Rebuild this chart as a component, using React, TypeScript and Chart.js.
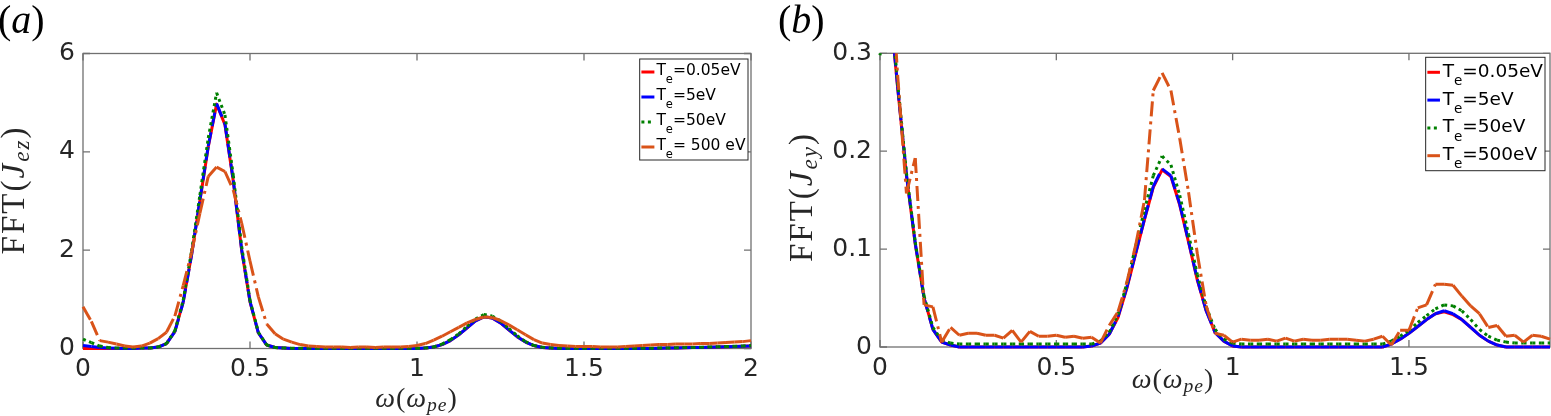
import React, { useEffect, useRef } from 'react';
import { Chart, registerables } from 'chart.js';

Chart.register(...registerables);

// frequency grid, omega in units of omega_pe
const freqA = [
  0, 0.025, 0.05, 0.075, 0.1, 0.125, 0.15, 0.175, 0.2, 0.225, 0.25, 0.275, 0.3, 0.325, 0.35, 0.375,
  0.4, 0.425, 0.45, 0.475, 0.5, 0.525, 0.55, 0.575, 0.6, 0.625, 0.65, 0.675, 0.7, 0.725, 0.75, 0.775,
  0.8, 0.825, 0.85, 0.875, 0.9, 0.925, 0.95, 0.975, 1, 1.025, 1.05, 1.075, 1.1, 1.125, 1.15, 1.175,
  1.2, 1.225, 1.25, 1.275, 1.3, 1.325, 1.35, 1.375, 1.4, 1.425, 1.45, 1.475, 1.5, 1.525, 1.55, 1.575,
  1.6, 1.625, 1.65, 1.675, 1.7, 1.725, 1.75, 1.775, 1.8, 1.825, 1.85, 1.875, 1.9, 1.925, 1.95, 1.975, 2,
];
const freqB = freqA.slice(0, 77);

// panel (a): FFT(J_ez)
const jez005 = [
  0, 0, 0, 0, 0, 0, 0, 0.01, 0.01,
  0.03, 0.1, 0.35, 0.95, 1.9, 3.0, 4.1, 4.97, 4.55, 3.4, 2.0, 0.95, 0.32, 0.07, 0.02, 0.01,
  0, 0, 0, 0, 0, 0, 0, 0, 0, 0, 0, 0, 0, 0, 0, 0,
  0.01, 0.03, 0.08, 0.16, 0.28, 0.42, 0.56, 0.645, 0.62, 0.52, 0.38, 0.24, 0.13, 0.06, 0.02, 0.01,
  0, 0, 0, 0, 0, 0, 0, 0, 0, 0, 0, 0,
  0.005, 0.01, 0.01, 0.015, 0.02, 0.02, 0.025, 0.03, 0.035, 0.04, 0.045, 0.05,
];
const jez5 = [
  0.06, 0.04, 0.02, 0.01, 0.005, 0, 0, 0.01, 0.01,
  0.03, 0.1, 0.34, 0.94, 1.9, 3.02, 4.12, 4.98, 4.57, 3.42, 2.01, 0.96, 0.32, 0.07, 0.02, 0.01,
  0, 0, 0, 0, 0, 0, 0, 0, 0, 0, 0, 0, 0, 0, 0, 0,
  0.01, 0.03, 0.08, 0.16, 0.28, 0.42, 0.56, 0.645, 0.62, 0.52, 0.38, 0.24, 0.13, 0.06, 0.02, 0.01,
  0, 0, 0, 0, 0, 0, 0, 0, 0, 0, 0, 0,
  0.005, 0.01, 0.01, 0.015, 0.02, 0.02, 0.025, 0.03, 0.035, 0.04, 0.045, 0.05,
];
const jez50 = [
  0.19, 0.12, 0.05, 0.02, 0.01, 0.01, 0.01, 0.01, 0.01,
  0.03, 0.1, 0.36, 0.98, 1.98, 3.12, 4.28, 5.2, 4.75, 3.52, 2.08, 0.98, 0.33, 0.07, 0.02, 0.01,
  0.005, 0.005, 0.005, 0.005, 0.005, 0.005, 0.005, 0.005, 0.005, 0.005, 0.005, 0.005, 0.005, 0.005, 0.005, 0.005,
  0.01, 0.03, 0.09, 0.18, 0.3, 0.45, 0.6, 0.69, 0.66, 0.56, 0.41, 0.26, 0.14, 0.06, 0.025, 0.01,
  0.005, 0.005, 0.005, 0.005, 0.005, 0.005, 0.005, 0.005, 0.005, 0.005, 0.005, 0.005,
  0.01, 0.01, 0.015, 0.02, 0.02, 0.025, 0.03, 0.035, 0.04, 0.045, 0.05, 0.06,
];
const jez500 = [
  0.85, 0.55, 0.16, 0.13, 0.09, 0.05, 0.03, 0.05, 0.11,
  0.2, 0.33, 0.66, 1.28, 1.95, 2.75, 3.5, 3.69, 3.6, 3.22, 2.55, 1.78, 1.05, 0.5, 0.3, 0.19,
  0.13, 0.08, 0.05, 0.04, 0.03, 0.03, 0.03, 0.02, 0.03, 0.03, 0.02, 0.03, 0.03, 0.03, 0.04, 0.06,
  0.1, 0.17, 0.25, 0.34, 0.43, 0.52, 0.59, 0.64, 0.63, 0.57, 0.48, 0.38, 0.28, 0.18, 0.11, 0.08,
  0.06, 0.05, 0.04, 0.04, 0.04, 0.03, 0.03, 0.03, 0.04, 0.05, 0.06, 0.07,
  0.08, 0.08, 0.09, 0.09, 0.09, 0.1, 0.1, 0.11, 0.12, 0.13, 0.14, 0.16,
];

// panel (b): FFT(J_ey)
const jey005 = [
  0.45, 0.36, 0.265, 0.175, 0.105, 0.05, 0.018, 0.005, 0.002,
  0, 0, 0, 0, 0, 0, 0, 0, 0, 0, 0, 0, 0, 0, 0,
  0.001, 0.004, 0.013, 0.03, 0.06, 0.095, 0.13, 0.163, 0.181, 0.174, 0.145, 0.107, 0.068, 0.037, 0.015, 0.006, 0.001,
  0, 0, 0, 0, 0, 0, 0, 0, 0, 0, 0, 0, 0, 0, 0, 0, 0,
  0.003, 0.008, 0.014, 0.021, 0.028, 0.034, 0.036, 0.033, 0.028, 0.02, 0.012, 0.006, 0.002,
  0, 0, 0, 0, 0, 0,
];
const jey5 = [
  0.46, 0.362, 0.266, 0.176, 0.106, 0.05, 0.018, 0.005, 0.002,
  0, 0, 0, 0, 0, 0, 0, 0, 0, 0, 0, 0, 0, 0, 0,
  0.001, 0.004, 0.013, 0.031, 0.061, 0.096, 0.131, 0.164, 0.182, 0.175, 0.146, 0.108, 0.069, 0.037, 0.015, 0.006, 0.001,
  0, 0, 0, 0, 0, 0, 0, 0, 0, 0, 0, 0, 0, 0, 0, 0, 0,
  0.003, 0.008, 0.014, 0.021, 0.028, 0.034, 0.037, 0.034, 0.028, 0.02, 0.012, 0.006, 0.002,
  0, 0, 0, 0, 0, 0,
];
const jey50 = [
  0.298, 0.37, 0.27, 0.178, 0.107, 0.052, 0.02, 0.007, 0.004,
  0.003, 0.003, 0.003, 0.003, 0.003, 0.003, 0.003, 0.003, 0.003, 0.003, 0.003, 0.003, 0.003, 0.003, 0.003,
  0.003, 0.006, 0.015, 0.033, 0.065, 0.103, 0.14, 0.175, 0.195, 0.186, 0.155, 0.115, 0.074, 0.041, 0.018, 0.008, 0.004,
  0.003, 0.003, 0.003, 0.003, 0.003, 0.003, 0.003, 0.003, 0.003, 0.003, 0.003, 0.003, 0.003, 0.003, 0.003, 0.003, 0.003,
  0.006, 0.011, 0.017, 0.025, 0.032, 0.039, 0.043, 0.042, 0.037, 0.028, 0.018, 0.011, 0.007,
  0.005, 0.004, 0.004, 0.004, 0.004, 0.004,
];
const jey500 = [
  0.5, 0.42, 0.278, 0.157, 0.193, 0.043, 0.041, 0.005, 0.02,
  0.012, 0.014, 0.014, 0.012, 0.012, 0.009, 0.017, 0.005, 0.016, 0.011, 0.011, 0.012, 0.01, 0.011, 0.009,
  0.01, 0.004, 0.022, 0.036, 0.066, 0.104, 0.15, 0.262, 0.28, 0.262, 0.213, 0.158, 0.095, 0.042, 0.014, 0.012, 0.005,
  0.008, 0.007, 0.007, 0.008, 0.006, 0.009, 0.006, 0.008, 0.007, 0.007, 0.008, 0.008, 0.008, 0.007, 0.006, 0.008, 0.011,
  0.002, 0.017, 0.017, 0.04, 0.043, 0.064, 0.064, 0.063, 0.052, 0.042, 0.034, 0.02, 0.022,
  0.011, 0.012, 0.005, 0.012, 0.011, 0.008,
];

const legendA = ['T_e=0.05eV', 'T_e=5eV', 'T_e=50eV', 'T_e= 500 eV'];
const legendB = ['T_e=0.05eV', 'T_e=5eV', 'T_e=50eV', 'T_e=500eV'];

const xTicksA = [0, 0.5, 1, 1.5, 2];
const yTicksA = [0, 2, 4, 6];
const xTicksB = [0, 0.5, 1, 1.5];
const yTicksB = [0, 0.1, 0.2, 0.3];

const SANS = '"DejaVu Sans", sans-serif';
const SERIF = '"Liberation Serif", "DejaVu Serif", serif';
const AXIS_COLOR = '#707070';
const TEXT_COLOR = '#262626';
const TICK_LEN = 7;

// red solid, blue dashed, green dotted, orange dash-dot
const lineStyles = [
  { color: '#ff0000', dash: [], order: 4, restart: false },
  { color: '#0000ff', dash: [14, 6], order: 3, restart: true },
  { color: '#008000', dash: [3, 3.5], order: 2, restart: true },
  { color: '#d95319', dash: [15, 5, 3, 5], order: 1, restart: true },
];

// MATLAB-like box with inward ticks on all four sides
const frameBox = {
  id: 'frameBox',
  beforeDatasetsDraw(chart: any) {
    const { ctx, chartArea: a, scales } = chart;
    ctx.save();
    ctx.strokeStyle = AXIS_COLOR;
    ctx.lineWidth = 1.3;
    ctx.strokeRect(a.left, a.top, a.right - a.left, a.bottom - a.top);
    ctx.beginPath();
    scales.x.ticks.forEach((t: any) => {
      const px = scales.x.getPixelForValue(t.value);
      ctx.moveTo(px, a.bottom);
      ctx.lineTo(px, a.bottom - TICK_LEN);
      ctx.moveTo(px, a.top);
      ctx.lineTo(px, a.top + TICK_LEN);
    });
    scales.y.ticks.forEach((t: any) => {
      const py = scales.y.getPixelForValue(t.value);
      ctx.moveTo(a.left, py);
      ctx.lineTo(a.left + TICK_LEN, py);
      ctx.moveTo(a.right, py);
      ctx.lineTo(a.right - TICK_LEN, py);
    });
    ctx.stroke();
    ctx.restore();
  },
};

// legend with a subscript in the label ("T_e=..." -> T, sub e, rest)
const makeLegend = (o: any) => ({
  id: 'texLegend',
  afterDatasetsDraw(chart: any) {
    const { ctx, chartArea: a } = chart;
    const sets = chart.data.datasets;
    const font = `${o.size}px ${SANS}`;
    const subFont = `${o.subSize}px ${SANS}`;
    const parts = sets.map((ds: any) => {
      const [main, rest] = ds.label.split('_');
      return { main, sub: rest[0], tail: rest.slice(1) };
    });
    ctx.save();
    const widths = parts.map((p: any) => {
      ctx.font = font;
      let w = ctx.measureText(p.main).width + ctx.measureText(p.tail).width;
      ctx.font = subFont;
      w += ctx.measureText(p.sub).width;
      return w;
    });
    const boxW = o.padL + o.sample + o.gap + Math.max(...widths) + o.padR;
    const boxH = o.first * 2 + o.pitch * (sets.length - 1);
    const x0 = a.right - o.insetRight - boxW;
    const y0 = a.top + o.insetTop;
    ctx.fillStyle = '#ffffff';
    ctx.fillRect(x0, y0, boxW, boxH);
    ctx.strokeStyle = TEXT_COLOR;
    ctx.lineWidth = 1;
    ctx.strokeRect(x0, y0, boxW, boxH);
    sets.forEach((ds: any, i: number) => {
      const cy = y0 + o.first + i * o.pitch;
      ctx.strokeStyle = ds.borderColor;
      ctx.lineWidth = ds.borderWidth;
      ctx.setLineDash(ds.borderDash || []);
      ctx.beginPath();
      ctx.moveTo(x0 + o.padL, cy);
      ctx.lineTo(x0 + o.padL + o.sample, cy);
      ctx.stroke();
      ctx.setLineDash([]);
      const p = parts[i];
      let tx = x0 + o.padL + o.sample + o.gap;
      ctx.fillStyle = '#000000';
      ctx.textAlign = 'left';
      ctx.textBaseline = 'alphabetic';
      ctx.font = font;
      ctx.fillText(p.main, tx, cy + o.base);
      tx += ctx.measureText(p.main).width;
      ctx.font = subFont;
      ctx.fillText(p.sub, tx, cy + o.subBase);
      tx += ctx.measureText(p.sub).width;
      ctx.font = font;
      ctx.fillText(p.tail, tx, cy + o.base);
    });
    ctx.restore();
  },
});

interface PanelProps {
  left: number;
  width: number;
  freq: number[];
  series: number[][];
  labels: string[];
  xTicks: number[];
  yTicks: number[];
  xMax: number;
  yMax: number;
  yAxisW: number;
  padTop: number;
  padRight: number;
  xAxisH: number;
  legend: any;
}

const FftPanel: React.FC<PanelProps> = (props) => {
  const canvasRef = useRef<HTMLCanvasElement>(null);
  const chartRef = useRef<Chart | null>(null);

  useEffect(() => {
    if (!canvasRef.current) return;
    if (chartRef.current) chartRef.current.destroy();

    const { freq, series, labels, xTicks, yTicks } = props;
    const datasets = series.map((vals, k) => {
      const st = lineStyles[k];
      return {
        label: labels[k],
        data: freq.map((f, i) => ({ x: f, y: vals[i] })),
        borderColor: st.color,
        borderWidth: 3,
        borderDash: st.dash,
        borderCapStyle: 'butt',
        borderJoinStyle: 'round',
        pointRadius: 0,
        tension: 0,
        order: st.order,
        clip: { left: 2, right: 2, top: 0, bottom: 3 },
        // restart the dash pattern on every segment, like the original renderer
        segment: st.restart
          ? { borderDashOffset: (c: any) => (c.p0DataIndex % 2) * 0.001 }
          : undefined,
      };
    });

    chartRef.current = new Chart(canvasRef.current, {
      type: 'line',
      data: { datasets } as any,
      plugins: [frameBox, makeLegend(props.legend)],
      options: {
        animation: false,
        responsive: true,
        maintainAspectRatio: false,
        events: [],
        layout: { padding: { left: 0, top: props.padTop, right: props.padRight, bottom: 0 } },
        plugins: {
          legend: { display: false },
          tooltip: { enabled: false },
        },
        scales: {
          x: {
            type: 'linear',
            min: 0,
            max: props.xMax,
            grid: { display: false, drawTicks: false },
            border: { display: false },
            ticks: {
              font: { family: SANS, size: 25 },
              color: TEXT_COLOR,
              padding: 6,
              maxRotation: 0,
              autoSkip: false,
              callback: (v: any) => String(v),
            },
            afterBuildTicks: (s: any) => {
              s.ticks = xTicks.map((v) => ({ value: v }));
            },
            afterFit: (s: any) => {
              s.height = props.xAxisH;
            },
          },
          y: {
            type: 'linear',
            min: 0,
            max: props.yMax,
            grid: { display: false, drawTicks: false },
            border: { display: false },
            ticks: {
              font: { family: SANS, size: 25 },
              color: TEXT_COLOR,
              padding: 8,
              callback: (v: any) => String(v),
            },
            afterBuildTicks: (s: any) => {
              s.ticks = yTicks.map((v) => ({ value: v }));
            },
            afterFit: (s: any) => {
              s.width = props.yAxisW;
            },
          },
        },
      } as any,
    });

    return () => {
      if (chartRef.current) {
        chartRef.current.destroy();
        chartRef.current = null;
      }
    };
  }, []);

  return (
    <div style={{ position: 'absolute', left: props.left, top: 0, width: props.width, height: 416 }}>
      <canvas ref={canvasRef}></canvas>
    </div>
  );
};

const sub = (t: string) => (
  <span style={{ fontSize: '0.7em', position: 'relative', top: '0.2em' }}>
    <i>{t}</i>
  </span>
);

const yTitle = (cx: number, cy: number): React.CSSProperties => ({
  position: 'absolute',
  left: cx,
  top: cy,
  transform: 'translate(-50%, -50%) rotate(-90deg)',
  fontFamily: SERIF,
  fontSize: 33,
  letterSpacing: 2,
  lineHeight: 1,
  whiteSpace: 'nowrap',
  color: TEXT_COLOR,
});

const xTitle = (cx: number, top: number): React.CSSProperties => ({
  position: 'absolute',
  left: cx,
  top,
  transform: 'translateX(-50%)',
  fontFamily: SERIF,
  fontSize: 28,
  letterSpacing: 1,
  lineHeight: 1,
  whiteSpace: 'nowrap',
  color: TEXT_COLOR,
});

const panelTag = (left: number): React.CSSProperties => ({
  position: 'absolute',
  left,
  top: 0,
  fontFamily: SERIF,
  fontSize: 40,
  lineHeight: 1,
  color: '#000',
});

export default function App() {
  return (
    <div
      style={{
        position: 'absolute',
        left: 0,
        top: 0,
        width: 1551,
        height: 416,
        background: '#ffffff',
        overflow: 'hidden',
      }}
    >
      <FftPanel
        left={0}
        width={775}
        freq={freqA}
        series={[jez005, jez5, jez50, jez500]}
        labels={legendA}
        xTicks={xTicksA}
        yTicks={yTicksA}
        xMax={2}
        yMax={6}
        yAxisW={83}
        padTop={53.5}
        padRight={24}
        xAxisH={67.5}
        legend={{
          size: 15.5, subSize: 11.5, pitch: 25, first: 13, insetRight: 3, insetTop: 5.5,
          padL: 1.7, sample: 13, gap: 2, padR: 2.5, base: 2.7, subBase: 11,
        }}
      />
      <FftPanel
        left={780}
        width={771}
        freq={freqB}
        series={[jey005, jey5, jey50, jey500]}
        labels={legendB}
        xTicks={xTicksB}
        yTicks={yTicksB}
        xMax={1.9}
        yMax={0.3}
        yAxisW={100}
        padTop={53.3}
        padRight={1}
        xAxisH={69}
        legend={{
          size: 18.5, subSize: 13.5, pitch: 27.8, first: 15, insetRight: 5, insetTop: 4,
          padL: 1.7, sample: 12.6, gap: 2.7, padR: 2, base: 4.4, subBase: 12.7,
        }}
      />

      <div style={panelTag(-2)}>(<i>a</i>)</div>
      <div style={panelTag(778)}>(<i>b</i>)</div>

      <div style={yTitle(13, 190)}>
        FFT(<i>J</i>{sub('ez')})
      </div>
      <div style={yTitle(801, 197)}>
        FFT(<i>J</i>{sub('ey')})
      </div>

      <div style={xTitle(416.5, 384)}>
        <i>ω</i>(<i>ω</i>{sub('pe')})
      </div>
      <div style={xTitle(1173, 365)}>
        <i>ω</i>(<i>ω</i>{sub('pe')})
      </div>
    </div>
  );
}
